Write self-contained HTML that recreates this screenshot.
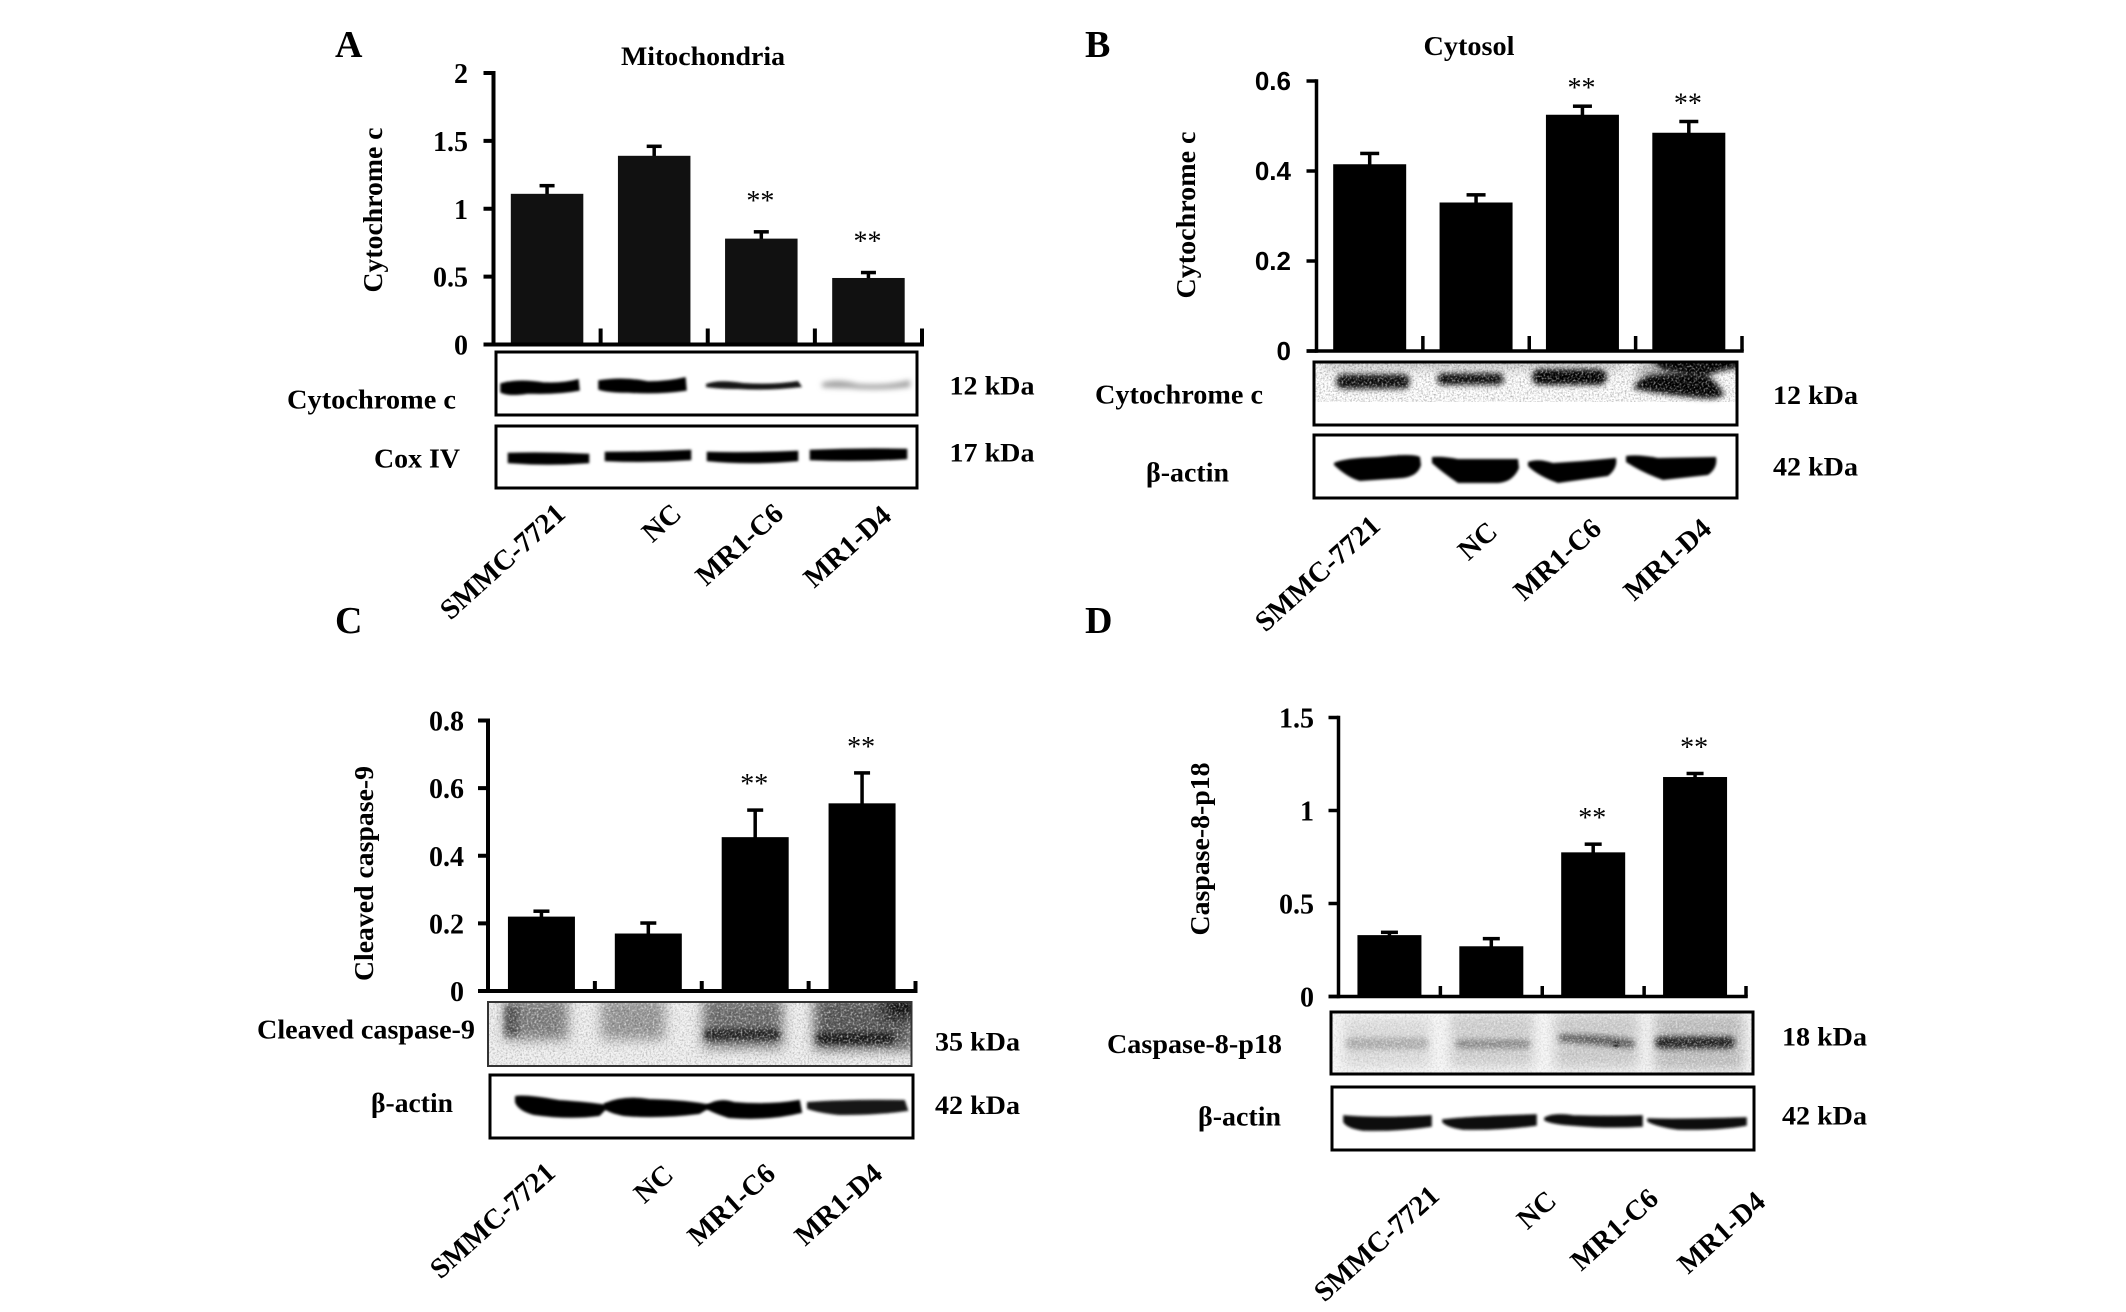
<!DOCTYPE html>
<html lang="en">
<head>
<meta charset="utf-8">
<title>Cytochrome c and caspase western blots</title>
<style>
html,body{margin:0;padding:0;background:#fff;width:2126px;height:1312px;overflow:hidden}
svg{display:block}
text{font-family:"Liberation Serif",serif;font-weight:bold;fill:#000}
.sans{font-family:"Liberation Sans",sans-serif}
</style>
</head>
<body>
<svg id="figure" xmlns="http://www.w3.org/2000/svg" width="2126" height="1312" viewBox="0 0 2126 1312">
<defs>
<filter id="b1" x="-20%" y="-50%" width="140%" height="200%"><feGaussianBlur stdDeviation="1.3"/></filter>
<filter id="b2" x="-20%" y="-60%" width="140%" height="220%"><feGaussianBlur stdDeviation="2.6"/></filter>
<filter id="b4" x="-30%" y="-80%" width="160%" height="260%"><feGaussianBlur stdDeviation="6"/></filter>
<filter id="grainDark" x="0" y="0" width="100%" height="100%"><feTurbulence type="fractalNoise" baseFrequency="0.55" numOctaves="2" seed="4"/><feColorMatrix values="0 0 0 0 0  0 0 0 0 0  0 0 0 0 0  2.2 0 0 0 -0.95"/></filter>
<filter id="grainLight" x="0" y="0" width="100%" height="100%"><feTurbulence type="fractalNoise" baseFrequency="0.5" numOctaves="2" seed="9"/><feColorMatrix values="0 0 0 0 1  0 0 0 0 1  0 0 0 0 1  3 0 0 0 -1.35"/></filter>
<clipPath id="clipB1"><rect x="1316" y="364" width="423" height="63"/></clipPath>
<clipPath id="clipC1"><rect x="489" y="1004" width="423.5" height="64"/></clipPath>
<clipPath id="clipD1"><rect x="1333" y="1014" width="422" height="62"/></clipPath>
</defs>

<!-- Panel A blots -->
<g transform="translate(-2,-2)">
  <path filter="url(#b1)" fill="#050505" stroke="#050505" stroke-width="1.5" d="M503,386 Q520,381 545,385 Q565,386 580,382 L581,392 Q560,396 530,395 Q510,398 503,394Z"/>
  <path filter="url(#b1)" fill="#050505" stroke="#050505" stroke-width="1.5" d="M601,383 Q625,379 650,384 Q670,384 687,380 L688,392 Q660,396 630,394 Q610,394 601,391Z"/>
  <path filter="url(#b1)" fill="#181818" d="M708,386 Q720,381 745,385 Q775,387 800,383 L804,389 Q770,393 740,391 Q720,391 708,389Z"/>
  <path filter="url(#b2)" fill="#a0a0a0" d="M824,385 Q840,380 860,386 Q890,388 912,382 L912,389 Q880,393 850,390 Q832,390 824,389Z"/>
  <rect x="498" y="354" width="421" height="63" fill="none" stroke="#000" stroke-width="3"/>
</g>
<g transform="translate(-2,-2)">
  <path filter="url(#b1)" fill="#050505" stroke="#050505" stroke-width="2.5" d="M511,456 Q550,455 590,457 L590,464 Q550,467 511,464Z"/>
  <path filter="url(#b1)" fill="#050505" stroke="#050505" stroke-width="2.5" d="M608,455 Q650,455 692,453 L692,461 Q650,464 608,462Z"/>
  <path filter="url(#b1)" fill="#050505" stroke="#050505" stroke-width="2.5" d="M710,455 Q750,456 799,454 L799,462 Q750,466 710,462Z"/>
  <path filter="url(#b1)" fill="#050505" stroke="#050505" stroke-width="2.5" d="M813,453 Q860,451 908,452 L908,460 Q860,463 813,461Z"/>
  <rect x="498" y="428" width="421" height="62" fill="none" stroke="#000" stroke-width="3"/>
</g>

<!-- Panel B blots -->
<g transform="translate(-2,-2)">
  <g clip-path="url(#clipB1)">
    <rect x="1316" y="364" width="423" height="63" fill="#fff"/>
    <rect x="1325" y="358" width="300" height="12" fill="#bbb" filter="url(#b4)"/>
    <rect x="1640" y="366" width="60" height="14" fill="#999" filter="url(#b4)"/>
    <path filter="url(#b2)" fill="#050505" d="M1650,360 L1745,360 L1745,370 Q1720,372 1705,380 L1665,372Z"/>
    <rect x="1338" y="376" width="74" height="15" rx="7" fill="#0c0c0c" filter="url(#b2)"/>
    <rect x="1439" y="375" width="67" height="12" rx="6" fill="#111" filter="url(#b2)"/>
    <rect x="1534" y="371" width="75" height="16" rx="8" fill="#030303" filter="url(#b2)"/>
    <path filter="url(#b2)" fill="#030303" stroke="#030303" stroke-width="2" d="M1637,388 Q1645,377 1665,377 Q1700,374 1712,380 Q1722,390 1725,396 Q1720,401 1700,399 Q1660,395 1637,390Z"/>
    <rect x="1316" y="364" width="423" height="63" filter="url(#grainLight)" opacity=".55"/>
    <rect x="1316" y="364" width="423" height="40" filter="url(#grainDark)" opacity=".35"/>
  </g>
  <rect x="1316" y="364" width="423" height="63" fill="none" stroke="#000" stroke-width="3"/>
</g>
<g transform="translate(-2,-2)">
  <path filter="url(#b1)" fill="#030303" d="M1336,465 Q1345,460 1380,459 Q1415,455 1422,459 L1423,467 Q1420,478 1405,480 L1362,483 Q1350,480 1336,467Z"/>
  <path filter="url(#b1)" fill="#030303" d="M1434,459 Q1445,458 1460,461 L1520,461 L1521,470 Q1515,484 1500,485 L1460,485 Q1445,475 1434,465Z"/>
  <path filter="url(#b1)" fill="#030303" d="M1530,464 Q1540,460 1555,465 L1585,463 L1618,460 Q1620,470 1610,478 L1560,485 Q1540,478 1530,468Z"/>
  <path filter="url(#b1)" fill="#030303" d="M1628,458 Q1640,456 1660,460 L1718,459 Q1720,470 1710,477 L1665,482 Q1645,475 1628,464Z"/>
  <rect x="1316" y="437" width="423" height="63" fill="none" stroke="#000" stroke-width="3"/>
</g>

<!-- Panel C blots -->
<g transform="translate(-1,-2)">
  <g clip-path="url(#clipC1)">
    <rect x="489" y="1004" width="423.5" height="64" fill="#f0f0f0"/>
    <rect x="505" y="1000" width="64" height="42" fill="#7e7e7e" filter="url(#b4)"/>
    <rect x="602" y="1000" width="64" height="42" fill="#969696" filter="url(#b4)"/>
    <rect x="704" y="1000" width="80" height="50" fill="#6a6a6a" filter="url(#b4)"/>
    <rect x="815" y="998" width="100" height="54" fill="#555" filter="url(#b4)"/>
    <rect x="885" y="998" width="35" height="22" fill="#111" filter="url(#b4)"/>
    <rect x="506" y="1008" width="14" height="30" fill="#555" filter="url(#b2)"/>
    <rect x="705" y="1031" width="76" height="11" rx="5" fill="#222" filter="url(#b2)"/>
    <rect x="817" y="1035" width="78" height="11" rx="5" fill="#151515" filter="url(#b2)"/>
    <rect x="489" y="1004" width="423.5" height="64" filter="url(#grainLight)" opacity=".6"/>
    <rect x="489" y="1004" width="423.5" height="64" filter="url(#grainDark)" opacity=".25"/>
  </g>
  <rect x="489" y="1004" width="423.5" height="64" fill="none" stroke="#333" stroke-width="2"/>
</g>
<g transform="translate(-1,-2)">
  <path filter="url(#b1)" fill="#050505" stroke="#050505" stroke-width="2" d="M517,1099 Q525,1097 560,1103 Q590,1105 609,1108 L600,1117 Q570,1121 535,1116 Q520,1112 517,1104Z"/>
  <path filter="url(#b1)" fill="#050505" stroke="#050505" stroke-width="2" d="M606,1106 Q625,1098 650,1102 Q690,1103 712,1108 L700,1115 Q660,1120 625,1117 Q610,1114 606,1110Z"/>
  <path filter="url(#b1)" fill="#050505" stroke="#050505" stroke-width="2" d="M708,1108 Q720,1100 735,1105 Q770,1108 800,1103 L802,1114 Q770,1122 730,1119 Q714,1114 708,1110Z"/>
  <path filter="url(#b1)" fill="#151515" stroke="#151515" stroke-width="2" d="M809,1105 Q850,1102 905,1103 L908,1112 Q880,1116 840,1116 Q820,1114 809,1110Z"/>
  <rect x="491" y="1077" width="423" height="63" fill="none" stroke="#000" stroke-width="3"/>
</g>

<!-- Panel D blots -->
<g transform="translate(-2,-2.5)">
  <g clip-path="url(#clipD1)">
    <rect x="1333" y="1014" width="422" height="62" fill="#f8f8f8"/>
    <rect x="1345" y="1020" width="88" height="50" fill="#dcdcdc" filter="url(#b4)"/>
    <rect x="1452" y="1015" width="84" height="55" fill="#cfcfcf" filter="url(#b4)"/>
    <rect x="1556" y="1015" width="85" height="56" fill="#cbcbcb" filter="url(#b4)"/>
    <rect x="1656" y="1015" width="90" height="58" fill="#bdbdbd" filter="url(#b4)"/>
    <rect x="1348" y="1040" width="82" height="12" rx="6" fill="#b0b0b0" filter="url(#b2)"/>
    <rect x="1458" y="1042" width="74" height="9" rx="4" fill="#8c8c8c" filter="url(#b2)"/>
    <path filter="url(#b2)" fill="#5e5e5e" d="M1561,1037 Q1600,1036 1636,1042 L1636,1051 Q1600,1048 1561,1044Z"/>
    <rect x="1657" y="1039" width="80" height="12" rx="6" fill="#222" filter="url(#b2)"/>
    <circle cx="1618" cy="1047" r="3" fill="#222" filter="url(#b1)"/>
    <rect x="1333" y="1014" width="422" height="62" filter="url(#grainLight)" opacity=".5"/>
    <rect x="1333" y="1014" width="422" height="62" filter="url(#grainDark)" opacity=".12"/>
  </g>
  <rect x="1333" y="1014.5" width="422" height="62" fill="none" stroke="#000" stroke-width="3"/>
</g>
<g transform="translate(-2,-2)">
  <path filter="url(#b1)" fill="#0c0c0c" stroke="#0c0c0c" stroke-width="1.5" d="M1346,1118 Q1380,1121 1433,1118 L1433,1128 Q1400,1133 1365,1132 Q1350,1130 1346,1124Z"/>
  <path filter="url(#b1)" fill="#0c0c0c" stroke="#0c0c0c" stroke-width="1.5" d="M1445,1122 Q1470,1119 1538,1117 L1538,1127 Q1500,1132 1465,1131 Q1450,1129 1445,1124Z"/>
  <path filter="url(#b1)" fill="#0c0c0c" stroke="#0c0c0c" stroke-width="1.5" d="M1547,1120 Q1556,1115 1575,1118 Q1610,1119 1644,1118 L1644,1128 Q1610,1130 1575,1127 Q1555,1126 1547,1122Z"/>
  <path filter="url(#b1)" fill="#0c0c0c" stroke="#0c0c0c" stroke-width="1.5" d="M1650,1121 Q1680,1122 1748,1120 L1748,1127 Q1720,1132 1680,1131 Q1658,1128 1650,1123Z"/>
  <rect x="1334" y="1089" width="422" height="63" fill="none" stroke="#000" stroke-width="3"/>
</g>

<!-- Static text -->
<text x="335" y="57" font-size="38">A</text>
<text x="1085" y="57" font-size="38">B</text>
<text x="335" y="633" font-size="38">C</text>
<text x="1085" y="633" font-size="38">D</text>
<text x="621" y="65" font-size="26" textLength="164" lengthAdjust="spacingAndGlyphs">Mitochondria</text>
<text x="1423.5" y="55" font-size="27" textLength="91" lengthAdjust="spacingAndGlyphs">Cytosol</text>

<text x="287" y="408.5" font-size="27" textLength="169" lengthAdjust="spacingAndGlyphs">Cytochrome c</text>
<text x="374" y="467.5" font-size="27" textLength="86" lengthAdjust="spacingAndGlyphs">Cox IV</text>
<text x="949.5" y="394.5" font-size="26" textLength="85" lengthAdjust="spacingAndGlyphs">12 kDa</text>
<text x="949.5" y="461.5" font-size="26" textLength="85" lengthAdjust="spacingAndGlyphs">17 kDa</text>

<text x="1095" y="403.5" font-size="27" textLength="168" lengthAdjust="spacingAndGlyphs">Cytochrome c</text>
<text x="1146" y="481.5" font-size="27" textLength="83" lengthAdjust="spacingAndGlyphs">β-actin</text>
<text x="1773" y="404" font-size="26" textLength="85" lengthAdjust="spacingAndGlyphs">12 kDa</text>
<text x="1773" y="475.5" font-size="26" textLength="85" lengthAdjust="spacingAndGlyphs">42 kDa</text>

<text x="257" y="1038.5" font-size="27" textLength="218" lengthAdjust="spacingAndGlyphs">Cleaved caspase-9</text>
<text x="371" y="1112" font-size="27" textLength="82" lengthAdjust="spacingAndGlyphs">β-actin</text>
<text x="935" y="1050.5" font-size="26" textLength="85" lengthAdjust="spacingAndGlyphs">35 kDa</text>
<text x="935" y="1114" font-size="26" textLength="85" lengthAdjust="spacingAndGlyphs">42 kDa</text>

<text x="1107" y="1053" font-size="27" textLength="175" lengthAdjust="spacingAndGlyphs">Caspase-8-p18</text>
<text x="1198" y="1125.5" font-size="27" textLength="83" lengthAdjust="spacingAndGlyphs">β-actin</text>
<text x="1782" y="1045.5" font-size="26" textLength="85" lengthAdjust="spacingAndGlyphs">18 kDa</text>
<text x="1782" y="1124.5" font-size="26" textLength="85" lengthAdjust="spacingAndGlyphs">42 kDa</text>

<g id="charts"></g>
</svg>

<script>
// ---- chart data ----
const categories = ['SMMC-7721', 'NC', 'MR1-C6', 'MR1-D4'];

const panelAValues = [1.11, 1.39, 0.78, 0.49];
const panelAErrors = [0.06, 0.07, 0.05, 0.04];
const panelATicks = [0, 0.5, 1, 1.5, 2];
const panelATickLabels = ['0', '0.5', '1', '1.5', '2'];

const panelBValues = [0.415, 0.33, 0.525, 0.485];
const panelBErrors = [0.024, 0.017, 0.019, 0.025];
const panelBTicks = [0, 0.2, 0.4, 0.6];
const panelBTickLabels = ['0', '0.2', '0.4', '0.6'];

const panelCValues = [0.22, 0.17, 0.455, 0.555];
const panelCErrors = [0.016, 0.031, 0.08, 0.09];
const panelCTicks = [0, 0.2, 0.4, 0.6, 0.8];
const panelCTickLabels = ['0', '0.2', '0.4', '0.6', '0.8'];

const panelDValues = [0.33, 0.27, 0.775, 1.18];
const panelDErrors = [0.015, 0.041, 0.044, 0.019];
const panelDTicks = [0, 0.5, 1, 1.5];
const panelDTickLabels = ['0', '0.5', '1', '1.5'];

const significant = [false, false, true, true];

// ---- layout ----
const SVGNS = 'http://www.w3.org/2000/svg';
const root = document.getElementById('charts');

const panels = [
  { id:'a', values:panelAValues, errors:panelAErrors, ticks:panelATicks, tickLabels:panelATickLabels,
    x0:493.5, x1:922, yBottom:344.5, yTop:73, yMax:2, barW:72.5, barFill:'#111', axisW:4, sepH:16,
    capW:15, tickRight:468, tickFont:28, tickBase:10, sans:false,
    title:'Cytochrome c', titleX:382, titleY:210, titleLen:165, starGap:41,
    catEnds:[[567,516],[683,516],[785,516],[893,518]] },
  { id:'b', values:panelBValues, errors:panelBErrors, ticks:panelBTicks, tickLabels:panelBTickLabels,
    x0:1316.5, x1:1742, yBottom:351, yTop:81, yMax:0.6, barW:73, barFill:'#000', axisW:3.5, sepH:15,
    capW:19, tickRight:1291, tickFont:26, tickBase:9, sans:true,
    title:'Cytochrome c', titleX:1195, titleY:215, titleLen:167, starGap:28,
    catEnds:[[1382,528],[1499,534],[1603,531],[1713,531]] },
  { id:'c', values:panelCValues, errors:panelCErrors, ticks:panelCTicks, tickLabels:panelCTickLabels,
    x0:488, x1:915.5, yBottom:991, yTop:720.5, yMax:0.8, barW:67, barFill:'#000', axisW:4, sepH:10,
    capW:16, tickRight:464, tickFont:28, tickBase:10, sans:false,
    title:'Cleaved caspase-9', titleX:373, titleY:873.5, titleLen:215, starGap:36,
    catEnds:[[557,1175],[675,1177],[777,1176],[884,1176]] },
  { id:'d', values:panelDValues, errors:panelDErrors, ticks:panelDTicks, tickLabels:panelDTickLabels,
    x0:1338.5, x1:1746, yBottom:996.5, yTop:717.5, yMax:1.5, barW:64, barFill:'#000', axisW:3.5, sepH:10.5,
    capW:17, tickRight:1314, tickFont:28, tickBase:10, sans:false,
    title:'Caspase-8-p18', titleX:1209, titleY:849, titleLen:173, starGap:36,
    catEnds:[[1441,1198],[1558,1203],[1660,1201],[1767,1204]] }
];

function mk(tag, attrs, parent) {
  const el = document.createElementNS(SVGNS, tag);
  for (const k in attrs) el.setAttribute(k, attrs[k]);
  parent.appendChild(el);
  return el;
}

function drawPanel(p) {
  const yScale = v => p.yBottom - (v / p.yMax) * (p.yBottom - p.yTop);
  const step = (p.x1 - p.x0) / categories.length;
  const xCenter = i => p.x0 + (i + 0.5) * step;

  const g = mk('g', {}, root);
  
  

  // bars + error bars + significance marks
  p.values.forEach((v, i) => {
    const cx = xCenter(i);
    const top = yScale(v);
    const errTop = yScale(v + p.errors[i]);

    const stem = mk('rect', { x: cx - 1.75, y: errTop, width: 3.5, height: top - errTop + 8, fill: '#000' }, g);
    
    

    const cap = mk('rect', { x: cx - p.capW / 2, y: errTop - 1.75, width: p.capW, height: 3.5, fill: '#000' }, g);
    
    

    const bar = mk('rect', { x: cx - p.barW / 2, y: top, width: p.barW, height: p.yBottom - top, fill: p.barFill }, g);
    
    

    if (significant[i]) {
      const star = mk('text', { x: cx - 1, y: errTop - p.starGap + 19, 'font-size': 28, 'text-anchor': 'middle', style: 'font-weight:normal' }, g);
      
      
      star.textContent = '**';
    }

    // category label (rotated)
    const end = p.catEnds[i];
    const lab = mk('text', { x: 0, y: 0, 'font-size': 28.5, 'text-anchor': 'end', transform: 'translate(' + end[0] + ',' + end[1] + ') rotate(-42)' }, g);
    
    
    lab.textContent = categories[i];
  });

  // axes
  const yAxis = mk('rect', { x: p.x0 - p.axisW / 2, y: p.yTop - p.axisW / 2, width: p.axisW, height: p.yBottom - p.yTop + p.axisW, fill: '#000' }, g);
  
  

  const xAxis = mk('rect', { x: p.x0 - 10, y: p.yBottom - p.axisW / 2, width: p.x1 - p.x0 + 10 + p.axisW / 2, height: p.axisW, fill: '#000' }, g);
  
  

  // x separators
  categories.forEach((c, i) => {
    const sx = p.x0 + (i + 1) * step;
    const sep = mk('rect', { x: sx - p.axisW / 2, y: p.yBottom - p.sepH, width: p.axisW, height: p.sepH, fill: '#000' }, g);
    
    
  });

  // y ticks + labels
  p.ticks.forEach((t, i) => {
    const y = yScale(t);
    const tick = mk('rect', { x: p.x0 - 10, y: y - p.axisW / 2, width: 10, height: p.axisW, fill: '#000' }, g);
    
    

    const txt = mk('text', { x: p.tickRight, y: y + p.tickBase, 'font-size': p.tickFont, 'text-anchor': 'end' }, g);
    if (p.sans) txt.setAttribute('class', 'sans');
    
    
    txt.textContent = p.tickLabels[i];
  });

  // y-axis title
  const title = mk('text', { x: 0, y: 0, 'font-size': 27, 'text-anchor': 'middle', textLength: p.titleLen, lengthAdjust: 'spacingAndGlyphs', transform: 'translate(' + p.titleX + ',' + p.titleY + ') rotate(-90)' }, g);
  
  
  title.textContent = p.title;
}

panels.forEach(drawPanel);
</script>
</body>
</html>
